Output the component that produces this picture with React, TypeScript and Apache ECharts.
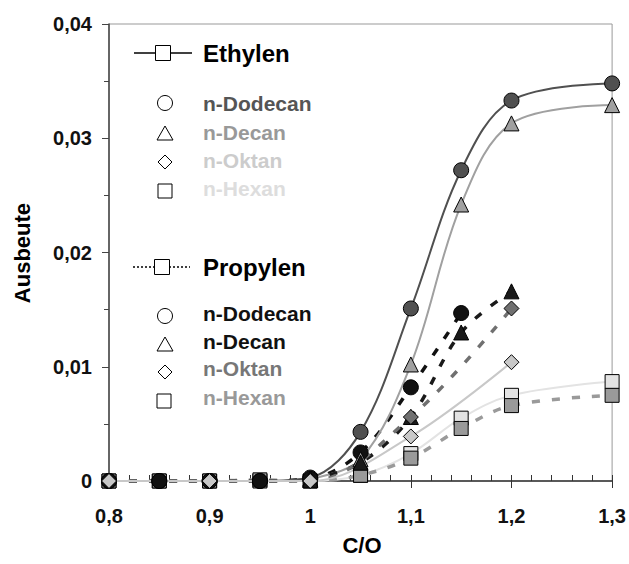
import React, { useEffect, useRef } from "react";
import * as echarts from "echarts";

// C/O ratios at which each feed was measured
const xFull = [0.8, 0.85, 0.9, 0.95, 1.0, 1.05, 1.1, 1.15, 1.2, 1.3];
const xDodecanPropylen = [0.8, 0.85, 0.9, 0.95, 1.0, 1.05, 1.1, 1.15];
const xDecan = [1.0, 1.05, 1.1, 1.15, 1.2, 1.3];
const xDecanPropylen = [1.0, 1.05, 1.1, 1.15, 1.2];
const xOktan = [0.8, 0.9, 1.0, 1.1, 1.2];

// Ethylen yields
const ethylenDodecan = [0, 0, 0, 0, 0.0003, 0.0043, 0.0151, 0.0272, 0.0333, 0.0348];
const ethylenDecan = [0.0002, 0.0019, 0.0102, 0.0242, 0.0313, 0.0329];
const ethylenOktan = [0, 0, 0, 0.0039, 0.0104];
const ethylenHexan = [0, 0, 0, 0, 0, 0.0005, 0.0024, 0.0055, 0.0075, 0.0087];

// Propylen yields
const propylenDodecan = [0, 0, 0, 0, 0.0002, 0.0025, 0.0082, 0.0147];
const propylenDecan = [0.0001, 0.0016, 0.0056, 0.013, 0.0166];
const propylenOktan = [0, 0, 0, 0.0056, 0.0151];
const propylenHexan = [0, 0, 0, 0.0001, 0, 0.0005, 0.002, 0.0046, 0.0066, 0.0075];

const xTicks = { min: 0.8, max: 1.3, interval: 0.1 };
const yTicks = { min: 0, max: 0.04, interval: 0.01 };

const FONT = '"Liberation Sans", Arial, sans-serif';

const pairs = (xs: number[], ys: number[]) => xs.map((x, i) => [x, ys[i]]);
const comma = (v: number, digits: number) =>
  String(+v.toFixed(digits)).replace(".", ",");

function App() {
  const ref = useRef<HTMLDivElement>(null);

  useEffect(() => {
    const chart = echarts.init(ref.current!, null, { renderer: "svg" });

    const solid = (name: string, xs: number[], ys: number[], color: string, symbol: string, size: number) => ({
      name,
      type: "line",
      data: pairs(xs, ys),
      smooth: 0.35,
      clip: false,
      symbol,
      symbolSize: size,
      lineStyle: { color, width: 2, type: "solid" },
      itemStyle: { color, borderColor: "#000", borderWidth: 1 },
    });
    const dashed = (name: string, xs: number[], ys: number[], color: string, symbol: string, size: number) => ({
      name,
      type: "line",
      data: pairs(xs, ys),
      smooth: 0.35,
      clip: false,
      symbol,
      symbolSize: size,
      lineStyle: { color, width: 3.5, type: [8, 12] },
      itemStyle: { color, borderColor: "#000", borderWidth: 1 },
    });

    const legendText = (text: string, x: number, y: number, fill: string, size: number) => ({
      type: "text",
      x,
      y,
      style: { text, fill, fontSize: size, fontWeight: "bold", fontFamily: FONT, align: "left", verticalAlign: "middle" },
    });
    const mk = { fill: "#fff", stroke: "#000", lineWidth: 1 };
    const circle = (cx: number, cy: number) => ({ type: "circle", shape: { cx, cy, r: 7.5 }, style: mk });
    const triangle = (cx: number, cy: number) => ({
      type: "polygon",
      shape: { points: [[cx, cy - 7], [cx - 8, cy + 7], [cx + 8, cy + 7]] },
      style: mk,
    });
    const diamond = (cx: number, cy: number) => ({
      type: "polygon",
      shape: { points: [[cx, cy - 7], [cx + 7, cy], [cx, cy + 7], [cx - 7, cy]] },
      style: mk,
    });
    const square = (cx: number, cy: number, s = 14) => ({
      type: "rect",
      shape: { x: cx - s / 2, y: cy - s / 2, width: s, height: s },
      style: mk,
    });

    chart.setOption({
      animation: false,
      backgroundColor: "#fff",
      grid: { left: 109, right: 13, top: 24, bottom: 83, show: true, borderColor: "#999", borderWidth: 1 },
      xAxis: [
        {
          type: "value",
          ...xTicks,
          axisLine: { lineStyle: { color: "#333", width: 1.5 } },
          axisTick: { show: true, length: 7, lineStyle: { color: "#333" } },
          axisLabel: {
            formatter: (v: number) => comma(v, 1),
            fontSize: 20,
            fontWeight: "bold",
            fontFamily: FONT,
            color: "#111",
            margin: 25,
          },
          splitLine: { show: false },
        },
        {
          type: "value",
          ...xTicks,
          position: "bottom",
          axisLine: { show: false },
          axisTick: { show: true, inside: true, length: 6, lineStyle: { color: "#333" } },
          minorTick: { show: true, splitNumber: 5, length: 6, lineStyle: { color: "#333" } },
          axisLabel: { show: false },
          splitLine: { show: false },
        },
      ],
      yAxis: {
        type: "value",
        ...yTicks,
        axisLine: { show: true, lineStyle: { color: "#444", width: 1.5 } },
        axisTick: { show: true, length: 7, lineStyle: { color: "#444" } },
        minorTick: { show: true, splitNumber: 2, length: 5, lineStyle: { color: "#444" } },
        axisLabel: {
          formatter: (v: number) => comma(v, 2),
          fontSize: 20,
          fontWeight: "bold",
          fontFamily: FONT,
          color: "#111",
          margin: 17,
        },
        splitLine: { show: false },
      },
      series: [
        solid("Ethylen n-Hexan", xFull, ethylenHexan, "#e3e3e3", "rect", 14),
        dashed("Propylen n-Hexan", xFull, propylenHexan, "#9a9a9a", "rect", 14),
        solid("Ethylen n-Dodecan", xFull, ethylenDodecan, "#505050", "circle", 15),
        dashed("Propylen n-Dodecan", xDodecanPropylen, propylenDodecan, "#111", "circle", 15),
        solid("Ethylen n-Decan", xDecan, ethylenDecan, "#a0a0a0", "triangle", 15),
        dashed("Propylen n-Decan", xDecanPropylen, propylenDecan, "#1a1a1a", "triangle", 15),
        dashed("Propylen n-Oktan", xOktan, propylenOktan, "#707070", "diamond", 15),
        solid("Ethylen n-Oktan", xOktan, ethylenOktan, "#c8c8c8", "diamond", 15),
      ],
      graphic: [
        // Ethylen legend block
        { type: "line", shape: { x1: 134, y1: 53, x2: 192, y2: 53 }, style: { stroke: "#000", lineWidth: 1.5 } },
        square(163, 53, 15),
        legendText("Ethylen", 203, 53, "#000", 24),
        circle(165, 103),
        legendText("n-Dodecan", 203, 103, "#555", 21),
        triangle(165, 133),
        legendText("n-Decan", 203, 132, "#999", 21),
        diamond(165, 162),
        legendText("n-Oktan", 203, 160, "#ccc", 21),
        square(165, 191),
        legendText("n-Hexan", 203, 188, "#ddd", 21),
        // Propylen legend block
        { type: "line", shape: { x1: 133, y1: 267, x2: 190, y2: 267 }, style: { stroke: "#000", lineWidth: 1.5, lineDash: [2, 2] } },
        square(162, 267, 15),
        legendText("Propylen", 203, 267, "#000", 24),
        circle(165, 316),
        legendText("n-Dodecan", 203, 313, "#111", 21),
        triangle(165, 344),
        legendText("n-Decan", 203, 341, "#111", 21),
        diamond(165, 372),
        legendText("n-Oktan", 203, 368, "#777", 21),
        square(164, 401),
        legendText("n-Hexan", 203, 397, "#999", 21),
        // axis titles
        {
          type: "text",
          x: 22,
          y: 253,
          rotation: Math.PI / 2,
          style: { text: "Ausbeute", fill: "#000", fontSize: 22, fontWeight: "bold", fontFamily: FONT, align: "center", verticalAlign: "middle" },
        },
        {
          type: "text",
          x: 362,
          y: 545,
          style: { text: "C/O", fill: "#000", fontSize: 22, fontWeight: "bold", fontFamily: FONT, align: "center", verticalAlign: "middle" },
        },
      ],
    });

    return () => chart.dispose();
  }, []);

  return <div ref={ref} style={{ position: "absolute", left: 0, top: 0, width: 629, height: 564 }} />;
}

export default App;
